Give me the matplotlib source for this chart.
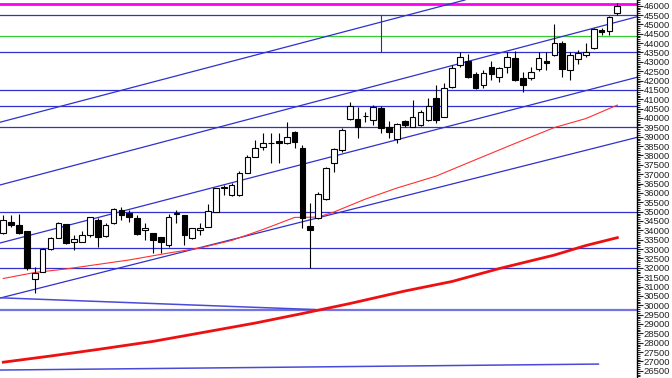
import numpy as np
import matplotlib
matplotlib.use("Agg")
import matplotlib.pyplot as plt

# OHLC values, one per daily bar
opens = [33860, 34450, 34290, 33970, 31400, 31780, 33000, 33590, 34340, 33380,
         33380, 33750, 34550, 33700, 34390, 35090, 34930, 34660, 34020, 33860,
         33650, 33220, 34900, 34820, 33590, 34020, 34180, 34980, 36240, 35890,
         35890, 37060, 37920, 38450, 38650, 38770, 38670, 39250, 38400, 34230,
         34660, 35680, 37600, 38290, 39950, 39950, 40080, 39890, 40530, 39520,
         38880, 39840, 39520, 39630, 39890, 41070, 40050, 41660, 42830, 43040,
         42350, 41760, 42720, 42190, 42720, 43200, 42140, 42140, 42620, 43040,
         43360, 44000, 42560, 43150, 43360, 43740, 44700, 44650, 45610]
highs = [34820, 34820, 34870, 33990, 32040, 33060, 33650, 34420, 34350, 33750,
         33970, 34730, 34660, 34390, 35190, 35250, 35090, 34820, 34390, 33870,
         33650, 34870, 35090, 34830, 34140, 34390, 35410, 36280, 36420, 36550,
         37190, 38020, 38830, 39200, 39200, 39200, 39790, 39310, 38560, 35460,
         36050, 37380, 38400, 39470, 40850, 40590, 40320, 40690, 40640, 39840,
         39730, 39890, 40960, 40430, 41070, 41760, 41870, 42830, 43520, 43420,
         42460, 42560, 43040, 42720, 43520, 43580, 42460, 42720, 43520, 43520,
         45020, 44110, 43520, 43630, 44000, 44810, 44810, 45420, 46140]
lows = [33800, 34180, 33800, 31880, 30660, 31750, 32950, 33580, 33260, 32950,
        33360, 33660, 33110, 33650, 34340, 34550, 34450, 33750, 33490, 32790,
        32790, 33110, 34390, 33220, 33540, 33750, 34170, 34960, 35890, 35850,
        35830, 37050, 37900, 38290, 37600, 37600, 38610, 38400, 34130, 31990,
        34610, 35620, 37120, 38180, 39890, 38930, 39790, 39630, 39200, 38930,
        38670, 39520, 39500, 39590, 39840, 39730, 40040, 41600, 42720, 42140,
        41550, 41600, 42030, 41920, 42400, 41980, 41390, 42030, 42510, 42560,
        43310, 42190, 42030, 42880, 43260, 43680, 44430, 44430, 45500]
closes = [34550, 34290, 33860, 31990, 31720, 33000, 33590, 34390, 33330, 33540,
          33750, 34710, 33650, 34290, 35140, 34820, 34710, 33810, 34130, 33490,
          33380, 34710, 34950, 33750, 34130, 34130, 35030, 36260, 36290, 36420,
          37060, 37920, 38400, 38670, 38680, 38670, 38990, 38720, 34660, 34020,
          35940, 37330, 38350, 39360, 40640, 39520, 40130, 40590, 39470, 39250,
          39680, 39630, 40050, 40320, 40640, 39890, 41600, 42670, 43260, 42190,
          41600, 42400, 42350, 42670, 43260, 42030, 41760, 42460, 43200, 42940,
          44000, 42620, 43360, 43470, 43520, 44750, 44590, 45390, 45980]

# moving averages, read at some of the bars
ma_short_bar = [0, 4, 8, 12, 16, 21, 25, 29, 33, 37, 40, 42, 46, 50, 55, 59, 65, 70, 74, 78]
ma_short = [31430, 31750, 31940, 32180, 32420, 32790, 33060, 33460, 34050, 34690,
            34710, 34980, 35670, 36260, 36900, 37600, 38640, 39490, 39970, 40690]
ma_long_bar = [0, 6, 12, 19, 25, 32, 38, 44, 51, 57, 63, 70, 74, 78]
ma_long = [26960, 27290, 27640, 28070, 28520, 29050, 29560, 30090, 30760, 31270,
           31960, 32680, 33190, 33610]

# horizontal levels
blue_levels = [45500, 43550, 41500, 40640, 39520, 35000, 33080, 31990]
green_level = 44380
magenta_level = 46070
base_level = 29770

# channel lines, two (bar, value) points each
channel_lines = [((0, 39820), (78, 48440)),
                 ((0, 36470), (78, 45130)),
                 ((0, 33370), (78, 41900)),
                 ((0, 30430), (78, 38700))]
down_line_bar = [-0.5, 39.6]
down_line_val = [30400, 29770]
bottom_line_bar = [-0.5, 75.6]
bottom_line_val = [26540, 26860]
marker_bar = [48, 48]
marker_val = [45500, 43520]

ytick_vals = list(range(26500, 46001, 500))

fig = plt.figure(figsize=(6.72, 3.78), dpi=100)
ax = fig.add_axes([0, 0, 637 / 672, 1])

blue = "#3030cc"
for lv in blue_levels:
    ax.axhline(lv, color=blue, lw=0.9, zorder=1)
ax.axhline(base_level, color="#7474e2", lw=1.6, zorder=1)
ax.axhline(green_level, color="#33cc33", lw=0.9, zorder=1)
ax.axhline(magenta_level, color="#ff00ee", lw=2, zorder=1)

for p1, p2 in channel_lines:
    ax.axline(p1, p2, color=blue, lw=0.9, zorder=1)
ax.plot(down_line_bar, down_line_val, color="#4a4ad8", lw=1.1, zorder=1)
ax.plot(bottom_line_bar, bottom_line_val, color="#4a4ad8", lw=1.1, zorder=1)
ax.plot(marker_bar, marker_val, color="#333377", lw=0.8, zorder=1)

ax.plot(ma_short_bar, ma_short, color="#ff3030", lw=0.8, zorder=2)
ax.plot(ma_long_bar, ma_long, color="#ee1010", lw=2, zorder=2)

# candles
o = np.array(opens)
c = np.array(closes)
bars = np.arange(len(o))
ax.vlines(bars, lows, highs, color="black", lw=0.8, zorder=3)
body = np.maximum(np.abs(c - o), 40)
cols = np.where(c >= o, "white", "black")
ax.bar(bars, body, bottom=np.minimum(o, c), width=0.72, color=cols,
       edgecolor="black", lw=0.8, zorder=4)

ax.set_xlim(-0.42, 80.5)
ax.set_ylim(26116, 46301)
ax.set_xticks([])
ax.yaxis.tick_right()
ax.set_yticks(ytick_vals)
ax.set_yticklabels([str(v) for v in ytick_vals], family="Liberation Sans")
ax.set_yticks(np.arange(26200, 46301, 100), minor=True)
ax.tick_params(axis="y", which="major", length=4, width=0.8, labelsize=6.8,
               pad=1, colors="#222222")
ax.tick_params(axis="y", which="minor", length=2, width=0.6)
for s in ["left", "top", "bottom"]:
    ax.spines[s].set_visible(False)
ax.spines["right"].set_linewidth(1)

fig.savefig("out.png", dpi=100)
